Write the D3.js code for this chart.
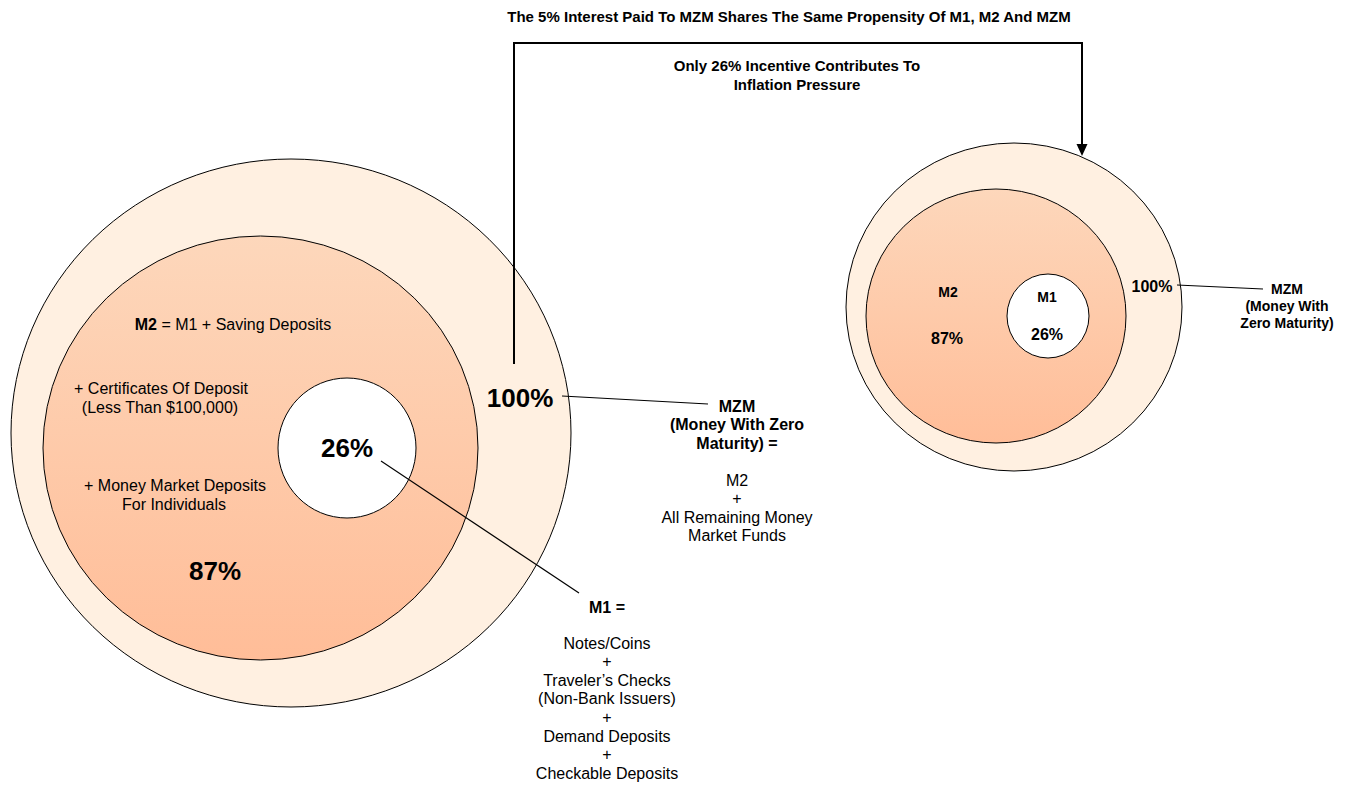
<!DOCTYPE html>
<html>
<head>
<meta charset="utf-8">
<script src="https://cdn.jsdelivr.net/npm/d3@7"></script>
<style>
  body { margin: 0; background: #fff; }
  svg { display: block; font-family: "Liberation Sans", Arial, Helvetica, sans-serif; }
</style>
</head>
<body>
<div class="chart"></div>
<script>
// money aggregates, nested: MZM contains M2 contains M1
const rings = ["MZM", "M2", "M1"];
const shares = [100, 87, 26];
const titleText = "The 5% Interest Paid To MZM Shares The Same Propensity Of M1, M2 And MZM";
const arrowText = ["Only 26% Incentive Contributes To", "Inflation Pressure"];
const m2Notes = ["+ Certificates Of Deposit", "(Less Than $100,000)", "+ Money Market Deposits", "For Individuals"];
const mzmDef = ["M2", "+", "All Remaining Money", "Market Funds"];
const m1Def = ["Notes/Coins", "+", "Traveler\u2019s Checks", "(Non-Bank Issuers)", "+", "Demand Deposits", "+", "Checkable Deposits"];

const w = 1351, h = 785;

const svg = d3.select(".chart").append("svg")
    .attr("width", w)
    .attr("height", h);

const defs = svg.append("defs");
const grad = defs.append("linearGradient")
    .attr("id", "m2grad")
    .attr("x1", 0).attr("y1", 0).attr("x2", 0).attr("y2", 1);
grad.append("stop").attr("offset", "0%").attr("stop-color", "#fdd7bb");
grad.append("stop").attr("offset", "100%").attr("stop-color", "#ffbd98");

const fillOf = d3.scaleOrdinal()
    .domain(rings)
    .range(["#fff0e1", "url(#m2grad)", "#ffffff"]);

// ellipse geometry for each diagram (big one on the left, small one on the right)
const bigShapes = [
    {cx: 291, cy: 433, rx: 280, ry: 274},
    {cx: 260.5, cy: 448, rx: 217.5, ry: 212},
    {cx: 347, cy: 448, rx: 69, ry: 70}
];
const smallShapes = [
    {cx: 1014, cy: 307, rx: 168, ry: 164},
    {cx: 996, cy: 316, rx: 130, ry: 127},
    {cx: 1048, cy: 316, rx: 41, ry: 42}
];

const drawRings = function (shapes) {
    svg.append("g")
        .selectAll("ellipse")
        .data(rings.map(function (r, i) { return Object.assign({name: r, share: shares[i]}, shapes[i]); }))
        .enter()
        .append("ellipse")
        .attr("cx", function (d) { return d.cx; })
        .attr("cy", function (d) { return d.cy; })
        .attr("rx", function (d) { return d.rx; })
        .attr("ry", function (d) { return d.ry; })
        .style("fill", function (d) { return fillOf(d.name); })
        .style("stroke", "#000")
        .style("stroke-width", 1);
};
drawRings(bigShapes);
drawRings(smallShapes);

const txt = function (x, y, s, size, bold) {
    return svg.append("text")
        .attr("x", x)
        .attr("y", y)
        .attr("dy", "0.35em")
        .attr("text-anchor", "middle")
        .style("font-size", size + "px")
        .style("font-weight", bold ? "bold" : "normal")
        .style("fill", "#000")
        .text(s);
};
const lines = function (x, y0, step, arr, size, bold) {
    arr.forEach(function (s, i) { txt(x, y0 + i * step, s, size, bold); });
};
const pct = function (v) { return v + "%"; };

// leader lines
const leader = function (x1, y1, x2, y2) {
    svg.append("line")
        .attr("x1", x1).attr("y1", y1).attr("x2", x2).attr("y2", y2)
        .style("stroke", "#000")
        .style("stroke-width", 1.2);
};
leader(562, 396, 708, 404);
leader(381, 461, 579, 593);
leader(1177, 285, 1263, 289);

// connector arrow from big MZM to small MZM
svg.append("path")
    .attr("d", "M514,364 V43 H1082 V146")
    .style("fill", "none")
    .style("stroke", "#000")
    .style("stroke-width", 2);
svg.append("path")
    .attr("d", "M1076.5,144 L1087.5,144 L1082,156 Z")
    .style("fill", "#000");

// titles
txt(789, 17, titleText, 15, true);
lines(797, 66, 19, arrowText, 15, true);

// big diagram texts
const m2line = svg.append("text")
    .attr("x", 233).attr("y", 324).attr("dy", "0.35em")
    .attr("text-anchor", "middle")
    .style("font-size", "16px");
m2line.append("tspan").style("font-weight", "bold").text(rings[1]);
m2line.append("tspan").text(" = M1 + Saving Deposits");
txt(161, 388, m2Notes[0], 16, false);
txt(160, 407, m2Notes[1], 16, false);
txt(175, 485, m2Notes[2], 16, false);
txt(174, 504, m2Notes[3], 16, false);
txt(215, 571, pct(shares[1]), 26, true);
txt(347, 448, pct(shares[2]), 26, true);
txt(520, 398, pct(shares[0]), 26, true);

lines(737, 406, 18.5, [rings[0], "(Money With Zero", "Maturity) ="], 16, true);
lines(737, 480, 18.5, mzmDef, 16, false);

txt(607, 607, rings[2] + " =", 16, true);
lines(607, 643, 18.6, m1Def, 16, false);

// small diagram texts
txt(948, 292, rings[1], 14, true);
txt(947, 338, pct(shares[1]), 16, true);
txt(1047, 297, rings[2], 14, true);
txt(1047, 334, pct(shares[2]), 16, true);
txt(1152, 286, pct(shares[0]), 16, true);
lines(1287, 289, 17, [rings[0], "(Money With", "Zero Maturity)"], 14, true);
</script>
</body>
</html>
